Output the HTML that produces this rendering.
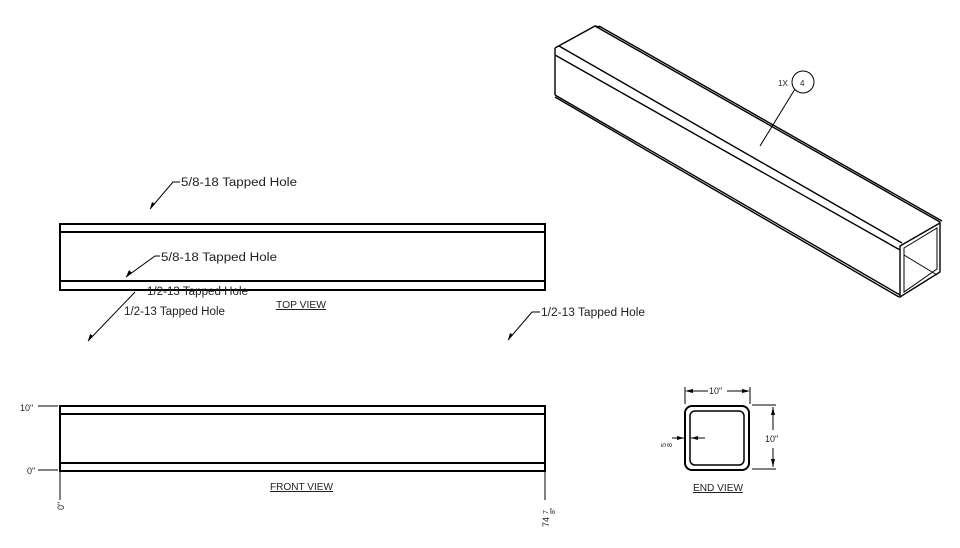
<!DOCTYPE html>
<html><head><meta charset="utf-8"><style>
html,body{margin:0;padding:0;background:#fff;}
svg{display:block;}
text{font-family:"Liberation Sans",sans-serif;fill:#222;}
</style></head><body>
<svg width="960" height="548" viewBox="0 0 960 548" xmlns="http://www.w3.org/2000/svg">
<g fill="none" stroke="#000">
<rect x="60" y="224" width="485" height="66" stroke-width="2"/>
<line x1="60" y1="232" x2="545" y2="232" stroke-width="2"/>
<line x1="60" y1="281" x2="545" y2="281" stroke-width="2"/>
<rect x="60" y="406" width="485" height="65" stroke-width="2"/>
<line x1="60" y1="414" x2="545" y2="414" stroke-width="2"/>
<line x1="60" y1="463" x2="545" y2="463" stroke-width="2"/>
<g stroke-width="1">
<line x1="38" y1="406" x2="58" y2="406"/>
<line x1="38" y1="470" x2="58" y2="470"/>
<line x1="60" y1="472" x2="60" y2="500"/>
<line x1="545" y1="472" x2="545" y2="500"/>
<polyline points="150,209 173,182 180,182"/>
<polyline points="126,277 155,256 160,256"/>
<polyline points="88,341 135,292"/>
<polyline points="508,340 532,312 540,312"/>
</g>
<rect x="685" y="406" width="64" height="64" rx="7" stroke-width="2"/>
<rect x="690" y="411" width="54" height="54" rx="5" stroke-width="1.5"/>
<g stroke-width="1">
<line x1="685" y1="387" x2="685" y2="404"/>
<line x1="750" y1="387" x2="750" y2="404"/>
<line x1="687" y1="391" x2="708" y2="391"/>
<line x1="727" y1="391" x2="748" y2="391"/>
<line x1="752" y1="405" x2="776" y2="405"/>
<line x1="752" y1="469" x2="776" y2="469"/>
<line x1="773" y1="407" x2="773" y2="430"/>
<line x1="773" y1="448" x2="773" y2="467"/>
<line x1="672" y1="438" x2="684" y2="438"/>
<line x1="691" y1="438" x2="705" y2="438"/>
</g>
<g stroke-width="1.4">
<polyline points="555,48 595,26 600,27"/>
<line x1="595" y1="26" x2="940" y2="222"/>
<line x1="599" y1="26" x2="942" y2="221"/>
<line x1="555" y1="48" x2="555" y2="95"/>
<line x1="559" y1="46" x2="902" y2="243"/>
<line x1="555" y1="55" x2="900" y2="250"/>
<line x1="555" y1="95" x2="900" y2="295"/>
<line x1="555" y1="97" x2="899" y2="297"/>
<polygon points="900,246 940,223 940,272 900,297"/>
<polygon points="904,248 937,228 937,269 904,292" stroke-width="1"/>
<line x1="904" y1="255" x2="937" y2="275" stroke-width="1"/>
<line x1="760" y1="146" x2="795" y2="89" stroke-width="1"/>
<circle cx="803" cy="82" r="11" stroke-width="1"/>
</g>
</g>
<g fill="#000">
<polygon points="150,209 152,202 155,204"/>
<polygon points="126,277 129,270 132,273"/>
<polygon points="88,341 90,334 93,336"/>
<polygon points="508,340 510,333 513,335"/>
<polygon points="685,391 693,389 693,393"/>
<polygon points="750,391 742,389 742,393"/>
<polygon points="773,407 771,415 775,415"/>
<polygon points="773,467 771,459 775,459"/>
<polygon points="684,438 677,436 677,440"/>
<polygon points="691,438 698,436 698,440"/>
</g>
<g font-size="11.5">
<text x="181" y="186" textLength="116" lengthAdjust="spacingAndGlyphs">5/8-18 Tapped Hole</text>
<text x="161" y="261" textLength="116" lengthAdjust="spacingAndGlyphs">5/8-18 Tapped Hole</text>
<text x="147" y="295" fill="#555" textLength="101" lengthAdjust="spacingAndGlyphs">1/2-13 Tapped Hole</text>
<text x="124" y="315" textLength="101" lengthAdjust="spacingAndGlyphs">1/2-13 Tapped Hole</text>
<text x="541" y="316" textLength="104" lengthAdjust="spacingAndGlyphs">1/2-13 Tapped Hole</text>
<text x="276" y="308" font-size="10" textLength="50" lengthAdjust="spacingAndGlyphs" text-decoration="underline">TOP VIEW</text>
<text x="270" y="490" font-size="10" textLength="63" lengthAdjust="spacingAndGlyphs" text-decoration="underline">FRONT VIEW</text>
<text x="693" y="491" font-size="10" textLength="50" lengthAdjust="spacingAndGlyphs" text-decoration="underline">END VIEW</text>
<text x="20" y="411" font-size="9">10"</text>
<text x="27" y="474" font-size="9">0"</text>
<text x="709" y="394" font-size="9">10"</text>
<text x="765" y="442" font-size="9">10"</text>
<text x="778" y="86" font-size="8">1X</text>
<text x="800" y="86" font-size="8">4</text>
<text transform="translate(64,510) rotate(-90)" font-size="9">0"</text>
<text transform="translate(549,527) rotate(-90)" font-size="9">74</text>
<text transform="translate(548,514) rotate(-90)" font-size="7">7</text>
<text transform="translate(555,514) rotate(-90)" font-size="7">8"</text>
<text transform="translate(672,447) rotate(-90)" font-size="7">8</text>
<text transform="translate(666,447) rotate(-90)" font-size="7">5</text>
</g>
</svg>
</body></html>
